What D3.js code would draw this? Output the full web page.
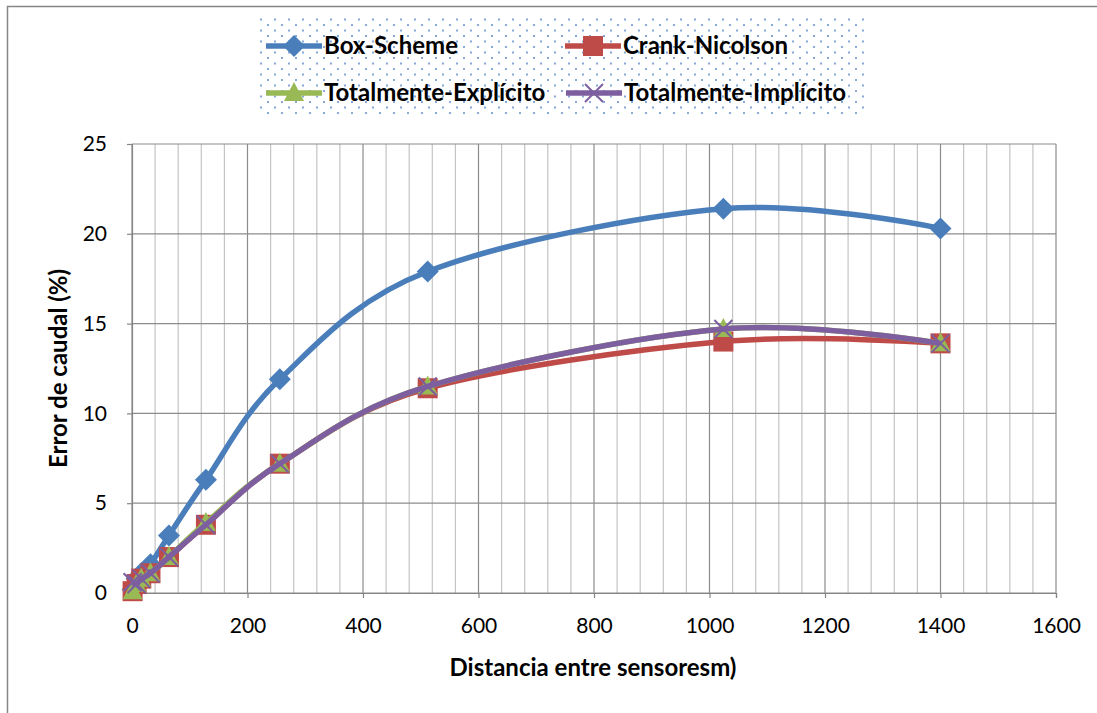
<!DOCTYPE html>
<html>
<head>
<meta charset="utf-8">
<script src="https://cdn.jsdelivr.net/npm/d3@7"></script>
<style>
  body { margin: 0; background: #fff; }
  svg { font-family: Lato, "Open Sans", sans-serif; }
</style>
</head>
<body>
<div id="chart"></div>
<script>
// data
var distances = [1, 8, 16, 32, 64, 128, 256, 512, 1024, 1400];
var boxScheme = [0.2, 0.8, 1.1, 1.6, 3.2, 6.3, 11.9, 17.9, 21.4, 20.3];
var crankNicolson = [0.1, 0.5, 0.8, 1.1, 2.0, 3.8, 7.2, 11.4, 14.0, 13.9];
var explicito = [0.1, 0.5, 0.8, 1.1, 2.0, 3.9, 7.2, 11.5, 14.7, 13.9];
var implicito = [0.6, 0.5, 0.8, 1.1, 2.0, 3.8, 7.2, 11.5, 14.7, 13.9];
var seriesNames = ["Box-Scheme", "Crank-Nicolson", "Totalmente-Explícito", "Totalmente-Implícito"];
var xTicks = [0, 200, 400, 600, 800, 1000, 1200, 1400, 1600];
var yTicks = [0, 5, 10, 15, 20, 25];

var svgWidth = 1097;
var svgHeight = 713;

// plot area
var plot = { left: 132, right: 1056, top: 144, bottom: 593 };

var svg = d3.select("#chart").append("svg")
  .attr("width", svgWidth)
  .attr("height", svgHeight);

// dotted fill for the legend box
var defs = svg.append("defs");
var pat = defs.append("pattern")
  .attr("id", "dots")
  .attr("patternUnits", "userSpaceOnUse")
  .attr("width", 14)
  .attr("height", 11);
pat.append("rect").attr("width", 14).attr("height", 11).attr("fill", "#fff");
pat.append("rect").attr("x", 1).attr("y", 2).attr("width", 2).attr("height", 2).attr("fill", "#86a9d9");
pat.append("rect").attr("x", 8).attr("y", 7.5).attr("width", 2).attr("height", 2).attr("fill", "#86a9d9");

// outer chart border
svg.append("rect")
  .attr("x", 7.5).attr("y", 6.5)
  .attr("width", 1200).attr("height", 800)
  .attr("fill", "none")
  .attr("stroke", "#868686")
  .attr("stroke-width", 1.5);

var xScale = d3.scaleLinear().domain([0, 1600]).range([plot.left, plot.right]);
var yScale = d3.scaleLinear().domain([0, 25]).range([plot.bottom, plot.top]);

// gridlines
var grid = svg.append("g");
grid.selectAll(".minor")
  .data(d3.range(40, 1600, 40).filter(d => d % 200 !== 0))
  .enter().append("line")
  .attr("x1", d => xScale(d)).attr("x2", d => xScale(d))
  .attr("y1", plot.top).attr("y2", plot.bottom)
  .attr("stroke", "#c4c4c4").attr("stroke-width", 1.2);
grid.selectAll(".major")
  .data(xTicks)
  .enter().append("line")
  .attr("x1", d => xScale(d)).attr("x2", d => xScale(d))
  .attr("y1", plot.top).attr("y2", plot.bottom)
  .attr("stroke", "#8c8c8c").attr("stroke-width", 1.2);
grid.selectAll(".hor")
  .data(yTicks)
  .enter().append("line")
  .attr("x1", plot.left).attr("x2", plot.right)
  .attr("y1", d => yScale(d)).attr("y2", d => yScale(d))
  .attr("stroke", "#8c8c8c").attr("stroke-width", 1.2);

// axes
var xAxis = d3.axisBottom(xScale).tickValues(xTicks).tickFormat(d3.format("d"))
  .tickSize(5).tickPadding(20);
var yAxis = d3.axisLeft(yScale).tickValues(yTicks).tickFormat(d3.format("d"))
  .tickSize(5).tickPadding(20);

var gx = svg.append("g")
  .attr("transform", `translate(0, ${plot.bottom})`)
  .call(xAxis);
var gy = svg.append("g")
  .attr("transform", `translate(${plot.left}, 0)`)
  .call(yAxis);
[gx, gy].forEach(function(g) {
  g.select(".domain").attr("stroke", "#868686").attr("stroke-width", 1.2);
  g.selectAll(".tick line").attr("stroke", "#868686").attr("stroke-width", 1.2);
  g.selectAll("text").attr("font-size", 21).attr("fill", "#000")
    .attr("font-family", "Lato, sans-serif");
});

// axis titles
svg.append("text")
  .attr("x", 593)
  .attr("y", 676)
  .attr("text-anchor", "middle")
  .attr("font-weight", "bold")
  .attr("font-size", 24)
  .text("Distancia entre sensoresm)");

svg.append("text")
  .attr("transform", `translate(67, ${(plot.top + plot.bottom) / 2}) rotate(-90)`)
  .attr("text-anchor", "middle")
  .attr("font-weight", "bold")
  .attr("font-size", 24)
  .text("Error de caudal (%)");

// series
var colors = ["#4a7ebb", "#be4b48", "#98b954", "#7d5fa0"];
var markers = ["diamond", "square", "triangle", "cross"];
var allValues = [boxScheme, crankNicolson, explicito, implicito];

var line = d3.line()
  .x(d => xScale(d[0]))
  .y(d => yScale(d[1]))
  .curve(d3.curveCatmullRom.alpha(0));

function drawMarker(g, type, x, y, color) {
  if (type === "diamond") {
    g.append("path")
      .attr("d", `M${x},${y - 11}L${x + 11},${y}L${x},${y + 11}L${x - 11},${y}Z`)
      .attr("fill", color);
  } else if (type === "square") {
    g.append("rect")
      .attr("x", x - 10).attr("y", y - 10)
      .attr("width", 20).attr("height", 20)
      .attr("fill", color);
  } else if (type === "triangle") {
    g.append("path")
      .attr("d", `M${x},${y - 11}L${x + 10},${y + 8}L${x - 10},${y + 8}Z`)
      .attr("fill", color);
  } else {
    g.append("path")
      .attr("d", `M${x - 9},${y - 9}L${x + 9},${y + 9}M${x - 9},${y + 9}L${x + 9},${y - 9}`)
      .attr("stroke", color).attr("stroke-width", 2).attr("fill", "none");
  }
}

allValues.forEach(function(vals, i) {
  var pts = distances.map((d, j) => [d, vals[j]]);
  var g = svg.append("g");
  g.append("path")
    .attr("d", line(pts))
    .attr("fill", "none")
    .attr("stroke", colors[i])
    .attr("stroke-width", 5.5)
    .attr("stroke-linejoin", "round");
  pts.forEach(function(p) {
    drawMarker(g, markers[i], xScale(p[0]), yScale(p[1]), colors[i]);
  });
});

// legend
svg.append("rect")
  .attr("x", 258).attr("y", 18)
  .attr("width", 610).attr("height", 96)
  .attr("fill", "url(#dots)");

var legendPos = [[266, 46], [565, 46], [266, 93], [566, 93]];
seriesNames.forEach(function(name, i) {
  var lx = legendPos[i][0], ly = legendPos[i][1];
  var g = svg.append("g");
  g.append("line")
    .attr("x1", lx).attr("x2", lx + 56)
    .attr("y1", ly).attr("y2", ly)
    .attr("stroke", colors[i]).attr("stroke-width", 5.5);
  drawMarker(g, markers[i], lx + 28, ly, colors[i]);
  g.append("text")
    .attr("x", lx + 58)
    .attr("y", ly)
    .attr("dy", "0.35em")
    .attr("font-weight", "bold")
    .attr("font-size", 24)
    .text(name);
});
</script>
</body>
</html>
